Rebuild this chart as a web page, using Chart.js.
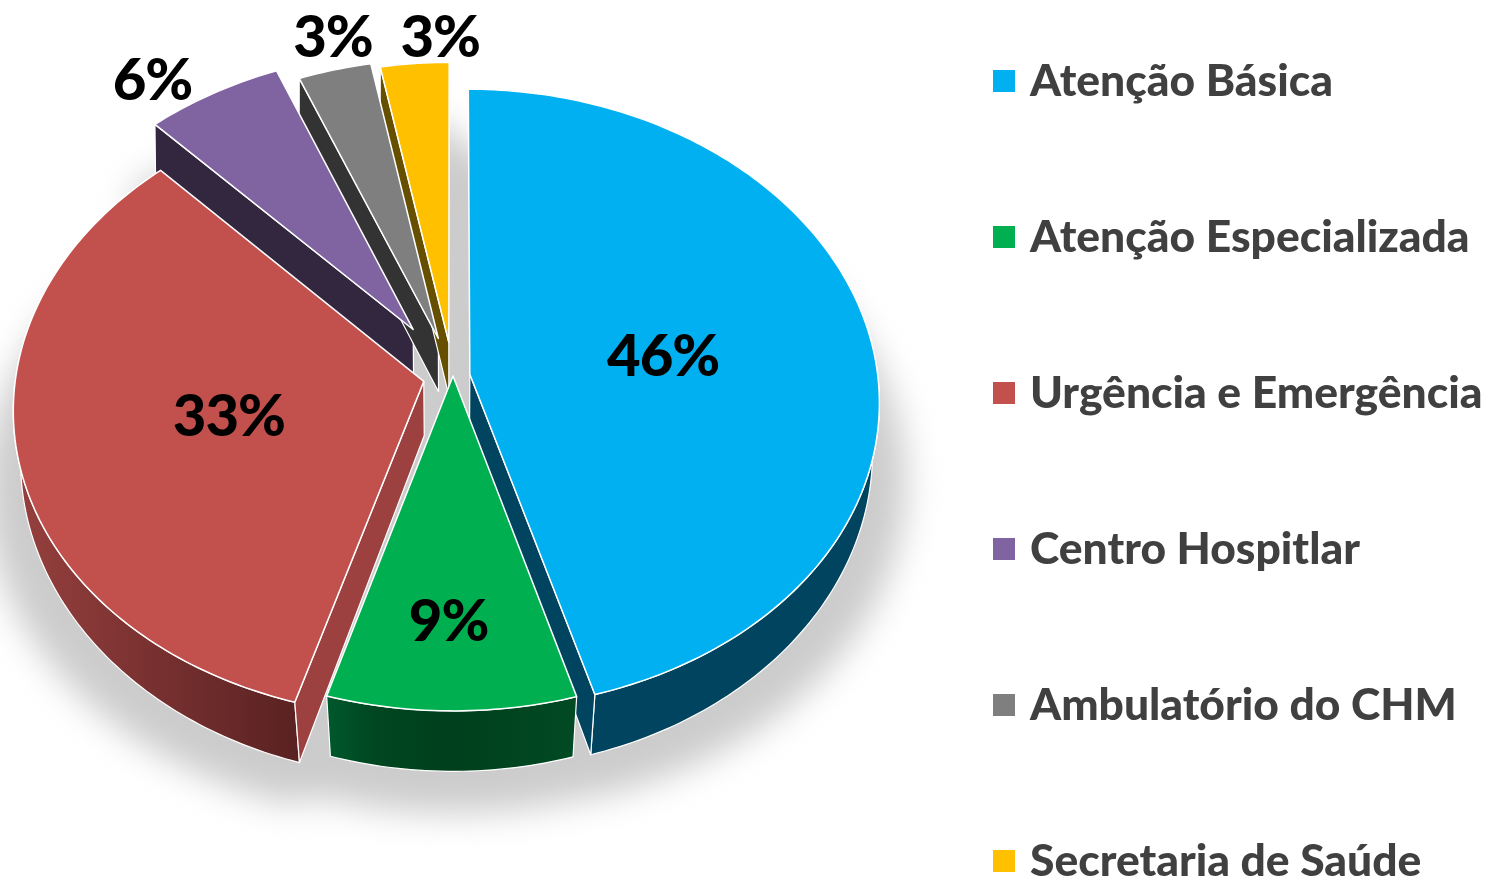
<!DOCTYPE html>
<html>
<head>
<meta charset="utf-8">
<script src="https://cdn.jsdelivr.net/npm/chart.js@4/dist/chart.umd.min.js"></script>
<style>
html, body { margin: 0; background: #fff; overflow: hidden; }
canvas { display: block; }
</style>
</head>
<body>
<canvas id="pieChart" width="1487" height="879"></canvas>
<script>
const categories = ["Atenção Básica", "Atenção Especializada", "Urgência e Emergência", "Centro Hospitlar", "Ambulatório do CHM", "Secretaria de Saúde"];
const shares = [45.5, 9.1, 33.2, 6.0, 3.2, 3.0];

const sliceColors = ["#00B0F0", "#00B050", "#C2514E", "#8064A2", "#7F7F7F", "#FFC000"];
const sideColors = ["#00445F", "#9C4140", "#9C4140", "#33263F", "#333333", "#665000"];
const outerLeft = ["#00445F", "#00582C", "#96403E", "#33263F", "#333333", "#665000"];
const outerRight = ["#00445F", "#004A24", "#5A2222", "#33263F", "#333333", "#665000"];
const explode = [17, 0, 30, 74, 52, 45];
const labelRadius = [0.48, 0.75, 0.485, 1.135, 1.123, 1.095];
const labelTurn = [1.5, 0.6, 0, -5.8, 1.4, 4.1];

const SQUASH = 0.76, TILT = 0.08, DEPTH = 54;
const STEP = Math.PI / 180;

function project(arc, x, y, depth) {
    const d = (y - arc.y) / arc.outerRadius;
    const fx = (1 + 0.09 * d) * (1 - 0.03 * (1 + d) / 2 * depth / DEPTH);
    const fy = 1 + TILT * d;
    return [arc.x + (x - arc.x) * fx, arc.y + (y - arc.y) * SQUASH * fy + depth * (1 + 0.12 * d)];
}

// apex and rim of one slice, in the flat chart plane
function sliceApex(arc) {
    const mid = (arc.startAngle + arc.endAngle) / 2;
    const off = arc.options.offset || 0;
    return [arc.x + Math.cos(mid) * off, arc.y + Math.sin(mid) * off];
}
function sliceRim(arc) {
    const apex = sliceApex(arc);
    const n = Math.max(2, Math.ceil((arc.endAngle - arc.startAngle) / STEP));
    const pts = [];
    for (let i = 0; i <= n; i++) {
        const a = arc.startAngle + (arc.endAngle - arc.startAngle) * i / n;
        pts.push([apex[0] + Math.cos(a) * arc.outerRadius, apex[1] + Math.sin(a) * arc.outerRadius]);
    }
    return pts;
}
function tracePoly(ctx, pts) {
    pts.forEach((p, i) => i ? ctx.lineTo(p[0], p[1]) : ctx.moveTo(p[0], p[1]));
    ctx.closePath();
}

// the library's arc keeps its geometry and options, only the drawing gets tilted
Chart.elements.ArcElement.prototype.draw = function (ctx) {
    const apex = sliceApex(this);
    const pts = [apex].concat(sliceRim(this)).map(p => project(this, p[0], p[1], 0));
    ctx.beginPath();
    tracePoly(ctx, pts);
    ctx.fillStyle = this.options.backgroundColor;
    ctx.fill();
    ctx.strokeStyle = this.options.borderColor;
    ctx.lineWidth = this.options.borderWidth;
    ctx.lineJoin = "round";
    ctx.stroke();
};

const pie3d = {
    id: "pie3d",
    beforeDatasetsDraw(chart) {
        const ctx = chart.ctx;
        const arcs = chart.getDatasetMeta(0).data;

        // soft shadow under the whole pie, gaps included
        ctx.save();
        ctx.filter = "blur(17px)";
        ctx.fillStyle = "#CCCCCC";
        ctx.translate(arcs[0].x, arcs[0].y + 26);
        ctx.scale(1.08, 1.04);
        ctx.translate(-arcs[0].x, -arcs[0].y);
        ctx.beginPath();
        let hull = [];
        arcs.forEach(arc => {
            hull = hull.concat(sliceRim(arc).map(p => project(arc, p[0], p[1], DEPTH)));
        });
        tracePoly(ctx, hull);
        ctx.fill();
        ctx.restore();

        // walls, back slices first
        ctx.save();
        ctx.strokeStyle = "#fff";
        ctx.lineWidth = 1.2;
        ctx.lineJoin = "round";
        const order = arcs.map((a, i) => i).sort((a, b) => sliceApex(arcs[a])[1] - sliceApex(arcs[b])[1]);
        order.forEach(i => {
            const arc = arcs[i];
            const apex = sliceApex(arc);
            const rim = sliceRim(arc);

            // outer wall, only where the rim faces the viewer
            const front = rim.filter(p => p[1] >= apex[1]);
            if (front.length > 1) {
                const top = front.map(p => project(arc, p[0], p[1], 0));
                const low = front.map(p => project(arc, p[0], p[1], DEPTH)).reverse();
                const xs = top.map(p => p[0]);
                const grad = ctx.createLinearGradient(Math.min(...xs), 0, Math.max(...xs), 0);
                grad.addColorStop(0, outerLeft[i]);
                if (i === 1) {
                    grad.addColorStop(0.2, "#004620");
                    grad.addColorStop(0.5, "#003F1C");
                    grad.addColorStop(0.8, "#004620");
                }
                grad.addColorStop(1, outerRight[i]);
                ctx.beginPath();
                tracePoly(ctx, top.concat(low));
                ctx.fillStyle = grad;
                ctx.fill();
                ctx.stroke();
            }

            // radial walls, only the one turned towards the viewer
            const visible = [];
            if (Math.sin(arc.startAngle - Math.PI / 2) > 0) visible.push(rim[0]);
            if (Math.sin(arc.endAngle + Math.PI / 2) > 0) visible.push(rim[rim.length - 1]);
            visible.forEach(edge => {
                ctx.beginPath();
                tracePoly(ctx, [
                    project(arc, apex[0], apex[1], 0), project(arc, edge[0], edge[1], 0),
                    project(arc, edge[0], edge[1], DEPTH), project(arc, apex[0], apex[1], DEPTH)
                ]);
                ctx.fillStyle = sideColors[i];
                ctx.fill();
                ctx.stroke();
            });
        });
        ctx.restore();
    },
    afterDatasetsDraw(chart) {
        const ctx = chart.ctx;
        ctx.save();
        ctx.font = "900 58px Lato";
        ctx.letterSpacing = "-1px";
        ctx.fillStyle = "#000";
        ctx.textAlign = "center";
        ctx.textBaseline = "middle";
        chart.getDatasetMeta(0).data.forEach((arc, i) => {
            const apex = sliceApex(arc);
            const a = (arc.startAngle + arc.endAngle) / 2 + labelTurn[i] * STEP;
            const r = arc.outerRadius * labelRadius[i];
            const p = project(arc, apex[0] + Math.cos(a) * r, apex[1] + Math.sin(a) * r, 0);
            ctx.fillText(Math.round(shares[i]) + "%", p[0], p[1]);
        });
        ctx.restore();
    },
    afterDraw(chart) {
        const ctx = chart.ctx;
        ctx.save();
        ctx.font = "900 44.4px Lato";
        ctx.textBaseline = "middle";
        categories.forEach((name, i) => {
            const y = 81 + i * 156;
            ctx.fillStyle = sliceColors[i];
            ctx.fillRect(993, y - 11, 22, 22);
            ctx.fillStyle = "#404040";
            ctx.fillText(name, 1030, y + 1);
        });
        ctx.restore();
    }
};

new Chart(document.getElementById("pieChart"), {
    type: "pie",
    data: {
        labels: categories,
        datasets: [{
            data: shares,
            backgroundColor: sliceColors,
            borderColor: "#fff",
            borderWidth: 1.5,
            offset: explode,
            clip: false
        }]
    },
    options: {
        responsive: false,
        animation: false,
        radius: 408,
        layout: { padding: { right: 581, bottom: 127 } },
        plugins: { legend: { display: false }, tooltip: { enabled: false } }
    },
    plugins: [pie3d]
});
</script>
</body>
</html>
